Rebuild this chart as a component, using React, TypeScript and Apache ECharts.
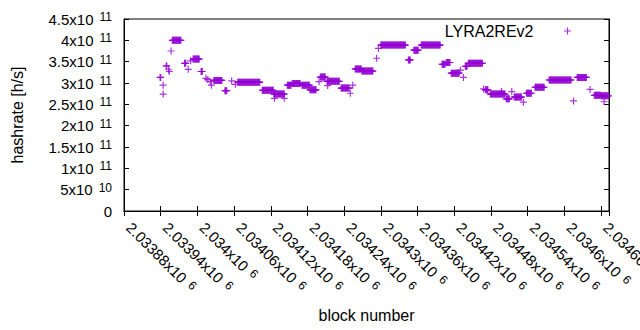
import React, { useEffect, useRef } from "react";
import * as echarts from "echarts";

// ---- data ----
const seriesName = "LYRA2REv2";
// runs of blocks that share one hashrate value (start block, end block inclusive, hashrate in units of 1e11 h/s)
const runStart = [
  2033939, 2033944, 2033944, 2033949, 2033953, 2033954, 2033957, 2033959, 2033979, 2033985,
  2033989, 2033993, 2034006, 2034014, 2034017, 2034021, 2034023, 2034027, 2034045, 2034056,
  2034062, 2034066, 2034106, 2034125, 2034126, 2034142, 2034147, 2034155, 2034171, 2034184,
  2034199, 2034201, 2034212, 2034213, 2034235, 2034250, 2034254, 2034258, 2034269, 2034293,
  2034296, 2034300, 2034345, 2034354, 2034366, 2034400, 2034407, 2034415, 2034430, 2034435,
  2034438, 2034443, 2034468, 2034471, 2034479, 2034497, 2034505, 2034514, 2034518, 2034533,
  2034538, 2034552, 2034575, 2034615, 2034621, 2034642, 2034649, 2034660, 2034665,
];
const runEnd = [
  2033940, 2033944, 2033944, 2033950, 2033953, 2033954, 2033957, 2033973, 2033981, 2033985,
  2033989, 2034003, 2034008, 2034014, 2034017, 2034021, 2034023, 2034040, 2034048, 2034056,
  2034062, 2034102, 2034124, 2034142, 2034126, 2034142, 2034153, 2034168, 2034183, 2034194,
  2034199, 2034209, 2034232, 2034213, 2034248, 2034250, 2034254, 2034268, 2034287, 2034293,
  2034296, 2034340, 2034348, 2034361, 2034397, 2034405, 2034413, 2034428, 2034430, 2034435,
  2034441, 2034466, 2034468, 2034475, 2034503, 2034497, 2034510, 2034514, 2034530, 2034533,
  2034546, 2034567, 2034611, 2034615, 2034636, 2034642, 2034659, 2034672, 2034665,
];
const runHashrate = [
  3.13, 2.95, 2.74, 3.4, 3.31, 3.27, 3.75, 4.0, 3.46, 3.32,
  3.52, 3.56, 3.27, 3.11, 3.08, 3.03, 2.95, 3.06, 2.82, 3.05,
  2.97, 3.02, 2.83, 2.74, 2.64, 2.64, 2.95, 2.99, 2.95, 2.84,
  3.03, 3.14, 3.04, 2.94, 2.88, 2.76, 2.95, 3.33, 3.28, 3.58,
  3.81, 3.89, 3.54, 3.77, 3.89, 3.44, 3.48, 3.23, 3.3, 3.13,
  3.39, 3.46, 2.86, 2.84, 2.74, 2.8, 2.63, 2.8, 2.67, 2.55,
  2.76, 2.9, 3.07, 2.58, 3.13, 2.85, 2.71, 2.7, 2.56,
];
const hashrateUnit = 1e11;

const xMin = 2033880;
const xMax = 2034673;
const xStep = 60;
const yMin = 0;
const yMax = 4.5e11;
const yStep = 5e10;

const FONT = "'Liberation Sans', Arial, sans-serif";
const FS = 16;
const TICK_FS = 15;
const PURPLE = "#9400d3";
const PLUS = "path://M0,2.9H2.9V0H4.1V2.9H7V4.1H4.1V7H2.9V4.1H0Z";

function buildPoints(): [number, number][] {
  const pts: [number, number][] = [];
  for (let i = 0; i < runStart.length; i++) {
    for (let b = runStart[i]; b <= runEnd[i]; b++) {
      pts.push([b, runHashrate[i] * hashrateUnit]);
    }
  }
  return pts;
}

function sciLabel(v: number, digits: number): string {
  if (v === 0) return "{m|0}";
  const e = Math.floor(Math.log10(Math.abs(v)) + 1e-9);
  const m = parseFloat((v / Math.pow(10, e)).toFixed(digits));
  return `{m|${m}x10}{s|${e}}`;
}

const rich = {
  m: { fontSize: TICK_FS, fontFamily: FONT, color: "#000", lineHeight: 16, verticalAlign: "middle" },
  s: { fontSize: 12, fontFamily: FONT, color: "#000", lineHeight: 8, padding: [0, 0, 0, 6], verticalAlign: "top" },
};
const richX = {
  m: { fontSize: TICK_FS, fontFamily: FONT, color: "#000", lineHeight: 16, padding: [0, 0, 0, 7], verticalAlign: "middle" },
  s: { fontSize: 12, fontFamily: FONT, color: "#000", lineHeight: 8, padding: [0, 0, 0, 6], verticalAlign: "top" },
};

export default function App() {
  const ref = useRef<HTMLDivElement>(null);
  useEffect(() => {
    if (!ref.current) return;
    const chart = echarts.init(ref.current, null, { renderer: "svg" });
    const axisLine = { show: true, lineStyle: { color: "#000", width: 1 } };
    const tick = { show: true, inside: true, length: 5, lineStyle: { color: "#000", width: 1 } };
    chart.setOption({
      animation: false,
      backgroundColor: "#fff",
      textStyle: { fontFamily: FONT, fontSize: FS },
      grid: {
        left: 124,
        right: 31,
        top: 19,
        bottom: 119,
        outerBoundsMode: "none",
        containLabel: false,
        show: true,
        borderColor: "#000",
        borderWidth: 1,
        backgroundColor: "transparent",
      },
      legend: {
        data: [seriesName],
        right: 69,
        top: 23,
        padding: 0,
        align: "right",
        itemWidth: 58,
        itemHeight: 7,
        textStyle: { fontSize: FS, fontFamily: FONT, color: "#000" },
      },
      xAxis: [
        {
          type: "value",
          min: xMin,
          max: xMax,
          interval: xStep,
          name: "block number",
          nameLocation: "middle",
          nameGap: 96,
          nameTextStyle: { fontSize: FS, fontFamily: FONT, color: "#000" },
          axisLine,
          axisTick: tick,
          splitLine: { show: false },
          axisLabel: {
            rotate: -45,
            margin: 9,
            fontSize: TICK_FS,
            fontFamily: FONT,
            color: "#000",
            showMinLabel: true,
            showMaxLabel: false,
            hideOverlap: false,
            formatter: (v: number) => sciLabel(v, 5),
            rich: richX,
          },
        },
        {
          type: "value",
          position: "top",
          min: xMin,
          max: xMax,
          interval: xStep,
          axisLine,
          axisTick: tick,
          axisLabel: { show: false },
          splitLine: { show: false },
        },
      ],
      yAxis: [
        {
          type: "value",
          min: yMin,
          max: yMax,
          interval: yStep,
          name: "hashrate [h/s]",
          nameLocation: "middle",
          nameGap: 99,
          nameTextStyle: { fontSize: FS, fontFamily: FONT, color: "#000" },
          axisLine,
          axisTick: tick,
          splitLine: { show: false },
          axisLabel: {
            margin: 12,
            fontSize: TICK_FS,
            fontFamily: FONT,
            color: "#000",
            showMinLabel: true,
            showMaxLabel: true,
            hideOverlap: false,
            formatter: (v: number) => sciLabel(v, 1),
            rich,
          },
        },
        {
          type: "value",
          position: "right",
          min: yMin,
          max: yMax,
          interval: yStep,
          axisLine,
          axisTick: tick,
          axisLabel: { show: false },
          splitLine: { show: false },
        },
      ],
      series: [
        {
          name: seriesName,
          type: "scatter",
          symbol: PLUS,
          symbolSize: 7,
          itemStyle: { color: PURPLE },
          data: buildPoints(),
          xAxisIndex: 0,
          yAxisIndex: 0,
          clip: false,
        },
      ],
    });
    return () => chart.dispose();
  }, []);
  return <div ref={ref} style={{ width: 640, height: 330, position: "absolute", left: 0, top: 0 }} />;
}
